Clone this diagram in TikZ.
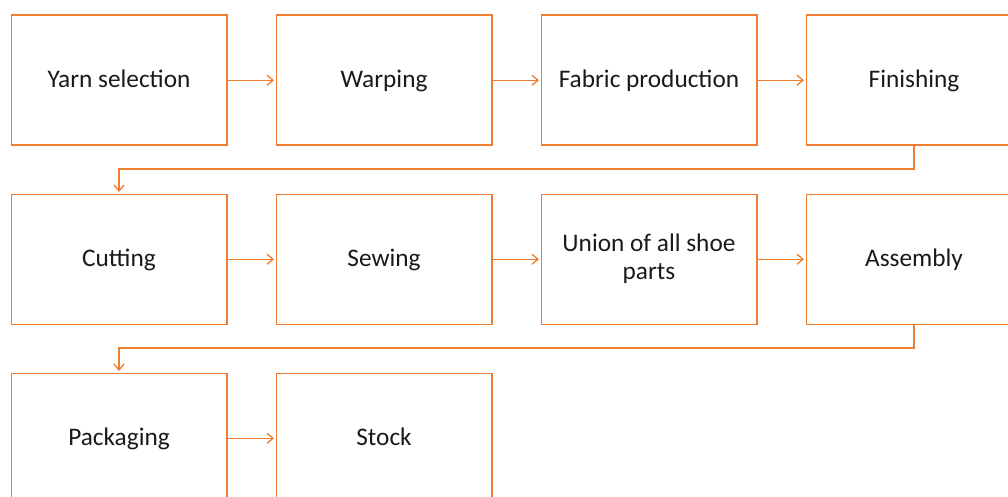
\documentclass[tikz,border=0pt]{standalone}
\usepackage{fontspec}
\setmainfont{Carlito}
\usetikzlibrary{arrows.meta}
\definecolor{orng}{HTML}{ED7D31}
\definecolor{txt}{HTML}{1A1A1A}
\newcommand{\boxstrut}{\rule[-5pt]{0pt}{25pt}}
\begin{document}
\begin{tikzpicture}[x=1pt,y=-1pt,
  stepbox/.style={draw=orng,line width=1.5pt,minimum width=215.5pt,minimum height=130pt,inner sep=0pt,
    font=\fontsize{25.3}{27.5}\selectfont,text=txt,align=center,anchor=north west,
    execute at begin node=\boxstrut},
  conn/.style={draw=orng,line width=1.3pt,-{Straight Barb[length=6pt,width=10pt,line width=1.3pt]},shorten >=1.5pt}]
\useasboundingbox (0,0) rectangle (1008,497);
\clip (0,0) rectangle (1008,497);
\node[stepbox] (yarn) at (10.5,14.5) {Yarn selection};
\node[stepbox] (warp) at (275.5,14.5) {Warping};
\node[stepbox] (fab) at (540.5,14.5) {Fabric production};
\node[stepbox] (fin) at (805.5,14.5) {Finishing};
\node[stepbox] (cut) at (10.5,193.5) {Cutting};
\node[stepbox] (sew) at (275.5,193.5) {Sewing};
\node[stepbox] (uni) at (540.5,193.5) {Union of all shoe\\parts\boxstrut};
\node[stepbox] (ass) at (805.5,193.5) {Assembly};
\node[stepbox] (pack) at (10.5,372.5) {Packaging};
\node[stepbox] (stock) at (275.5,372.5) {Stock};
\draw[conn] (yarn) -- (warp);
\draw[conn] (warp) -- (fab);
\draw[conn] (fab) -- (fin);
\draw[conn] (cut) -- (sew);
\draw[conn] (sew) -- (uni);
\draw[conn] (uni) -- (ass);
\draw[conn] (pack) -- (stock);
\draw[conn] (fin.south) |- ([yshift=24.5pt]cut.north) -- (cut.north);
\draw[conn] (ass.south) |- ([yshift=24.5pt]pack.north) -- (pack.north);
\end{tikzpicture}
\end{document}
